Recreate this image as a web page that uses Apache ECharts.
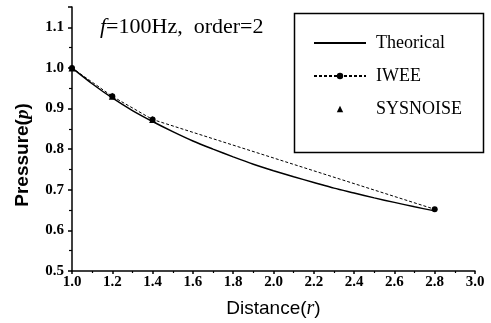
<!DOCTYPE html>
<html><head><meta charset="utf-8">
<script src="https://cdn.jsdelivr.net/npm/echarts@6/dist/echarts.min.js"></script>
<style>html,body{margin:0;padding:0;background:#fff}#c{width:491px;height:323px}</style>
</head><body><div id="c"></div>
<script>
// Data
var theoR = [1.0,1.1,1.2,1.3,1.4,1.5,1.6,1.7,1.8,1.9,2.0,2.1,2.2,2.3,2.4,2.5,2.6,2.7,2.8];
var theoP = [1.0,0.961,0.926,0.895,0.868,0.843,0.820,0.800,0.781,0.763,0.747,0.732,0.718,0.704,0.692,0.680,0.669,0.658,0.648];
var iweeR = [1.0,1.2,1.4,2.8];
var iweeP = [1.0,0.930,0.873,0.652];
var sysR = [1.0,1.2,1.4];
var sysP = [1.0,0.930,0.873];
var seriesNames = ['Theorical','IWEE','SYSNOISE'];

function zip(a,b){return a.map(function(v,i){return [v,b[i]];});}
var serif = '"Liberation Serif","Times New Roman",serif';
var sans = '"Liberation Sans",Arial,sans-serif';

var chart = echarts.init(document.getElementById('c'), null, {renderer:'canvas'});
chart.setOption({
  animation:false,
  backgroundColor:'#fff',
  grid:{left:72,right:16,top:7,bottom:52,containLabel:false,outerBoundsMode:'none'},
  xAxis:{
    type:'value',min:1.0,max:3.0,interval:0.2,
    name:'{a|Distance(}{i|r}{a|)}',
    nameLocation:'middle',nameGap:28,
    nameTextStyle:{color:'#000',
      rich:{a:{fontFamily:sans,fontSize:19,color:'#000'},
            i:{fontFamily:serif,fontStyle:'italic',fontSize:20,color:'#000'}}},
    axisLine:{lineStyle:{color:'#000',width:1.5}},
    axisTick:{length:3,lineStyle:{color:'#000',width:1.5}},
    minorTick:{show:true,splitNumber:2,length:2,lineStyle:{color:'#000',width:1.2}},
    axisLabel:{margin:4,fontFamily:serif,fontSize:15,fontWeight:'bold',color:'#000',
      formatter:function(v){return v.toFixed(1);}},
    splitLine:{show:false}
  },
  yAxis:{
    type:'value',min:0.5,max:1.15,interval:0.1,
    axisLine:{lineStyle:{color:'#000',width:1.5}},
    axisTick:{length:4,lineStyle:{color:'#000',width:1.5}},
    minorTick:{show:true,splitNumber:2,length:3,lineStyle:{color:'#000',width:1.2}},
    axisLabel:{margin:8,fontFamily:serif,fontSize:15,fontWeight:'bold',color:'#000',
      formatter:function(v){var r=Math.round(v*10);return Math.abs(v*10-r)<1e-6?v.toFixed(1):'';}},
    splitLine:{show:false}
  },
  legend:{
    orient:'vertical',left:313,top:34,
    itemWidth:52,itemHeight:8,itemGap:15,
    padding:0,
    data:[
      {name:seriesNames[0],itemStyle:{opacity:0}},
      {name:seriesNames[1]},
      {name:seriesNames[2]}
    ],
    textStyle:{fontFamily:serif,fontSize:18,lineHeight:18,color:'#000',padding:[0,0,0,5]}
  },
  graphic:[
    {type:'rect',left:292,top:11,shape:{width:189,height:139},
      style:{fill:'none',stroke:'#000',lineWidth:1.5},z:100},
    {type:'text',left:100,top:16,z:100,
      style:{text:'{i|f}{n|=100Hz,  order=2}',
        rich:{i:{fontFamily:serif,fontStyle:'italic',fontSize:22,fill:'#000'},
              n:{fontFamily:serif,fontSize:22,fill:'#000'}}}},
    {type:'text',x:23,y:155,rotation:Math.PI/2,z:100,
      style:{text:'{b|Pressure(}{i|p}{b|)}',align:'center',verticalAlign:'middle',
        rich:{b:{fontFamily:sans,fontWeight:'bold',fontSize:19,fill:'#000'},
              i:{fontFamily:serif,fontWeight:'bold',fontStyle:'italic',fontSize:19,fill:'#000'}}}}
  ],
  series:[
    {name:'Theorical',type:'line',data:zip(theoR,theoP),showSymbol:false,symbol:'none',smooth:0.3,
      lineStyle:{color:'#000',width:1.5},itemStyle:{color:'#000'}},
    {name:'IWEE',type:'line',data:zip(iweeR,iweeP),symbol:'circle',symbolSize:6,
      lineStyle:{color:'#000',width:1,type:[3,2]},itemStyle:{color:'#000'}},
    {name:'SYSNOISE',type:'line',data:zip(sysR,sysP),symbol:'triangle',symbolSize:7,
      lineStyle:{color:'#000',width:0,opacity:0},itemStyle:{color:'#000'}}
  ]
});
</script></body></html>
